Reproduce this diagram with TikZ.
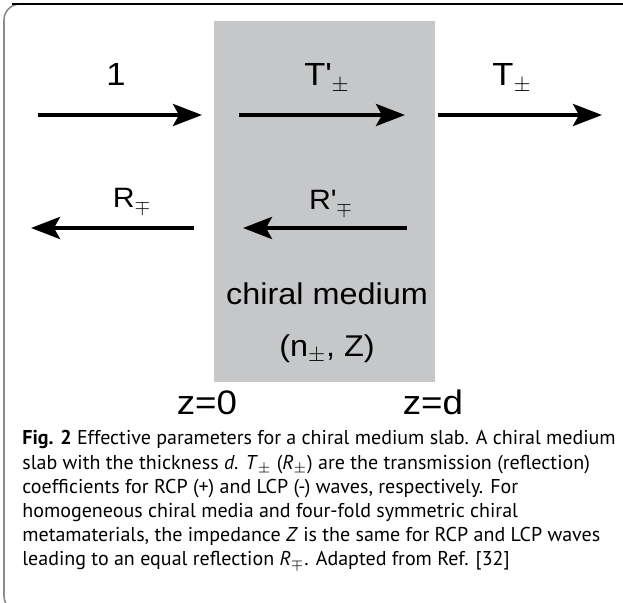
\documentclass[tikz,border=0pt]{standalone}
\usepackage{fontspec}
\setmainfont{PT Sans}
\newfontfamily\figfont{Liberation Sans}[FakeStretch=1.08]
\usetikzlibrary{arrows.meta}
\definecolor{slabgray}{RGB}{198,199,201}
\definecolor{framegray}{RGB}{140,140,140}

\begin{document}
\begin{tikzpicture}[
  x=0.5pt, y=-0.5pt,
  wave/.style={line width=2pt, -{Stealth[length=14.5pt, width=11pt, inset=3pt]}},
  toplabel/.style={font=\figfont\fontsize{16pt}{16pt}\selectfont, anchor=base, inner sep=0pt},
  backlabel/.style={font=\figfont\fontsize{14pt}{14pt}\selectfont, anchor=base, inner sep=0pt},
  slabtext/.style={font=\figfont\fontsize{15pt}{15pt}\selectfont, anchor=base, inner sep=0pt},
  zlabel/.style={font=\figfont\fontsize{17pt}{17pt}\selectfont, anchor=base, inner sep=0pt}
]
\clip (0,0) rectangle (623,603);

% frame
\draw[framegray, line width=0.8pt, rounded corners=8] (623,4) -- (4,4) -- (4,612) -- (623,612);
\draw[black, line width=0.8pt] (12,4) -- (623,4);

% slab
\fill[slabgray] (214,21) rectangle (435,382);

% wave end points
\coordinate (inA) at (38,115);
\coordinate (inB) at (202,115);
\coordinate (slabA) at (239,115);
\coordinate (slabB) at (405,115);
\coordinate (outA) at (438,115);
\coordinate (outB) at (602,115);
\coordinate (backA) at (407,228);
\coordinate (backB) at (243,228);
\coordinate (reflA) at (194,228);
\coordinate (reflB) at (31,228);

\draw[wave] (inA) -- (inB);
\draw[wave] (slabA) -- (slabB);
\draw[wave] (outA) -- (outB);
\draw[wave] (backA) -- (backB);
\draw[wave] (reflA) -- (reflB);

% labels
\node[toplabel] (one) at (116,86) {1};
\node[toplabel] (tslab) at (327,86) {T\textquotesingle$_{\pm}$};
\node[toplabel] (tout) at (512,86) {T$_{\pm}$};
\node[backlabel] (rout) at (132,208) {R$_{\mp}$};
\node[backlabel] (rslab) at (331,210) {R\textquotesingle$_{\mp}$};
\node[slabtext] (medium) at (327,305) {chiral medium};
\node[slabtext] (params) at (327,357) {(n$_{\pm}$, Z)};
\node[zlabel] (zzero) at (207,415) {z=0};
\node[zlabel] (zd) at (433,415) {z=d};

% caption
\node[anchor=base west, align=left, inner sep=0pt,
      font=\fontsize{10pt}{12.1pt}\selectfont] (caption) at (22,566)
  {\textbf{Fig. 2} Effective parameters for a chiral medium slab. A chiral medium\\
   slab with the thickness \textit{d}. \textit{T}$_\pm$ (\textit{R}$_\pm$) are the transmission (reflection)\\
   coefficients for RCP (+) and LCP (-) waves, respectively. For\\
   homogeneous chiral media and four-fold symmetric chiral\\
   metamaterials, the impedance \textit{Z} is the same for RCP and LCP waves\\
   leading to an equal reflection \textit{R}$_\mp$. Adapted from Ref. [32]};

\end{tikzpicture}
\end{document}
